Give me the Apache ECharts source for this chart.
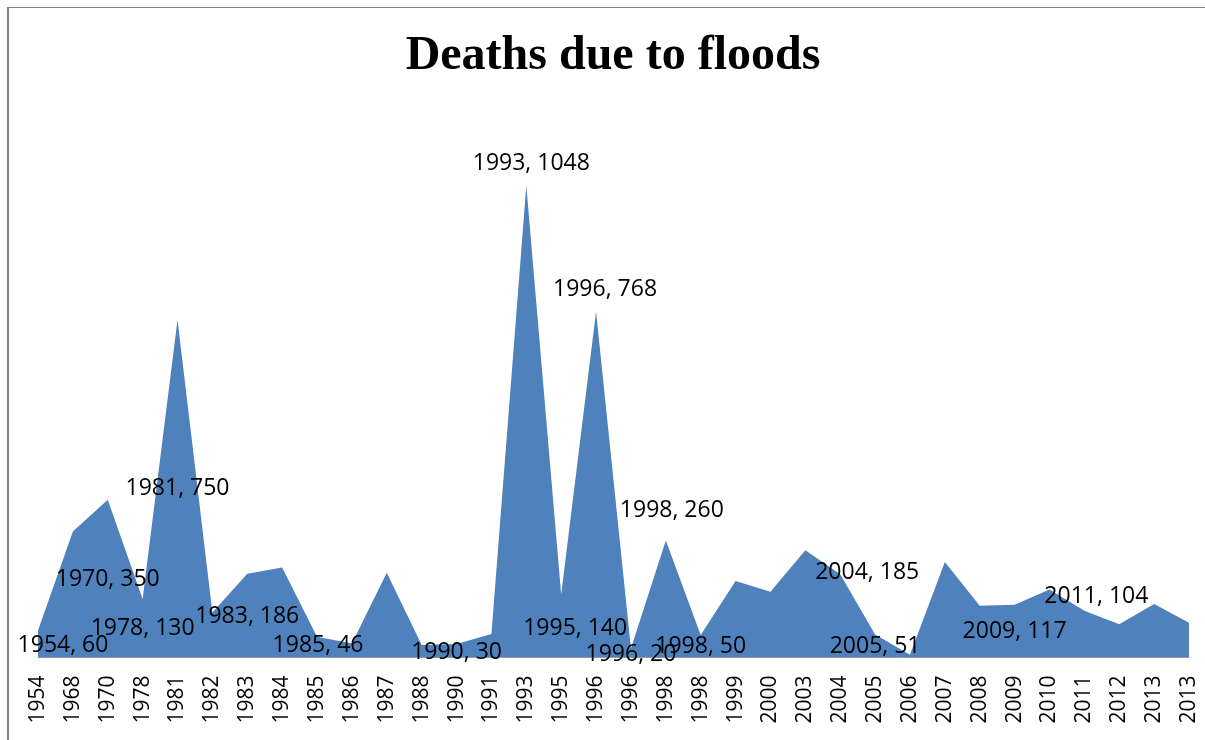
<!DOCTYPE html>
<html>
<head>
<meta charset="utf-8">
<title>Deaths due to floods</title>
<script src="https://cdn.jsdelivr.net/npm/echarts@6/dist/echarts.min.js"></script>
<style>
  html, body { margin: 0; padding: 0; background: #ffffff; }
  #chart { width: 1205px; height: 740px; }
</style>
</head>
<body>
<div id="chart"></div>
<script>
// Years of recorded flood events (some years appear twice: separate events)
const years = ['1954','1968','1970','1978','1981','1982','1983','1984','1985','1986',
  '1987','1988','1990','1991','1993','1995','1996','1996','1998','1998',
  '1999','2000','2003','2004','2005','2006','2007','2008','2009','2010',
  '2011','2012','2013','2013'];

// Deaths per event
const deaths = [60, 280, 350, 130, 750, 100, 186, 200, 46, 31,
  188, 28, 30, 52, 1048, 140, 768, 20, 260, 50,
  170, 146, 238, 185, 51, 6, 212, 115, 117, 151,
  104, 74, 119, 77];

// Events that carry a "year, deaths" label
const labeledIdx = [0, 2, 3, 4, 6, 8, 12, 14, 15, 16, 17, 18, 19, 23, 24, 28, 30];

// Label placement (pixel shift of each label centre from its data point)
const labelShift = {
  0: [25, 15], 2: [0, 80], 3: [0, 30], 4: [0, 169], 6: [0, 43], 8: [1, 9],
  12: [0, 8], 14: [5, -22], 15: [14, 34], 16: [9, -22], 17: [0, 6],
  18: [6, -30], 19: [0, 11], 23: [27, -2], 24: [0, 12], 28: [0, 27], 30: [12, -14]
};

const seriesData = deaths.map((v, i) => {
  if (labeledIdx.indexOf(i) === -1) return v;
  return {
    value: v,
    label: {
      show: true,
      position: labelShift[i],
      align: 'center',
      verticalAlign: 'middle'
    }
  };
});

const chart = echarts.init(document.getElementById('chart'), null, { renderer: 'canvas' });

chart.setOption({
  backgroundColor: '#ffffff',
  animation: false,
  title: {
    text: 'Deaths due to floods',
    left: 613,
    top: 33,
    padding: 0,
    textAlign: 'center',
    textStyle: {
      fontFamily: '"Liberation Serif", "Times New Roman", serif',
      fontWeight: 'bold',
      fontSize: 48,
      lineHeight: 48,
      color: '#000000'
    }
  },
  graphic: [
    { type: 'rect', shape: { x: 7, y: 7, width: 2, height: 733 }, style: { fill: '#868686' }, silent: true },
    { type: 'rect', shape: { x: 7, y: 7, width: 1198, height: 1 }, style: { fill: '#868686' }, silent: true }
  ],
  grid: { left: 38, right: 16, top: 117, bottom: 82.5, containLabel: false },
  xAxis: {
    type: 'category',
    data: years,
    boundaryGap: false,
    axisLine: { show: true, lineStyle: { color: '#a5a5a5', width: 1 } },
    axisTick: { show: false },
    axisLabel: {
      rotate: 90,
      margin: 18,
      interval: 0,
      color: '#000000',
      fontFamily: '"Open Sans", sans-serif',
      fontSize: 21
    },
    splitLine: { show: false }
  },
  yAxis: {
    type: 'value',
    min: 0,
    max: 1200,
    show: false,
    splitLine: { show: false }
  },
  series: [{
    type: 'line',
    data: seriesData,
    symbol: 'circle',
    symbolSize: 0,
    showSymbol: true,
    lineStyle: { width: 0, color: '#4f81bd' },
    itemStyle: { color: '#4f81bd' },
    areaStyle: { color: '#4f81bd', opacity: 1 },
    label: {
      show: false,
      color: '#000000',
      fontFamily: '"Open Sans", sans-serif',
      fontSize: 23,
      formatter: p => p.name + ', ' + p.value
    },
    labelLayout: { hideOverlap: false },
    z: 2
  }]
});
</script>
</body>
</html>
